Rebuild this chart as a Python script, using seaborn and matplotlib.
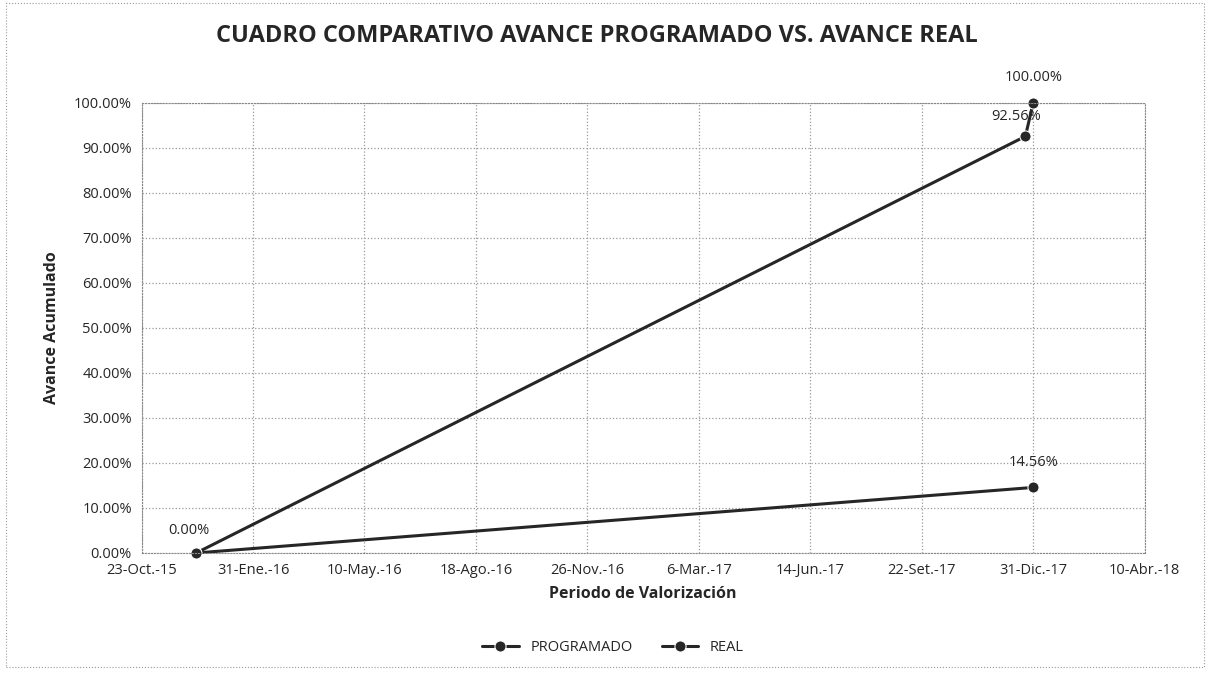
import pandas as pd
import seaborn as sns
import matplotlib.pyplot as plt
from matplotlib.ticker import PercentFormatter
from matplotlib.patches import Rectangle

# datos
fechas_prog = ['2015-12-11', '2017-12-24', '2017-12-31']
avance_prog = [0.0, 0.9256, 1.0]
fechas_real = ['2015-12-11', '2017-12-31']
avance_real = [0.0, 0.1456]

fechas_ticks = ['2015-10-23', '2016-01-31', '2016-05-10', '2016-08-18', '2016-11-26',
                '2017-03-06', '2017-06-14', '2017-09-22', '2017-12-31', '2018-04-10']
etiquetas_x = ['23-Oct.-15', '31-Ene.-16', '10-May.-16', '18-Ago.-16', '26-Nov.-16',
               '6-Mar.-17', '14-Jun.-17', '22-Set.-17', '31-Dic.-17', '10-Abr.-18']

prog = pd.DataFrame({'Fecha': pd.to_datetime(fechas_prog), 'Avance': avance_prog})
real = pd.DataFrame({'Fecha': pd.to_datetime(fechas_real), 'Avance': avance_real})

sns.set_style('white')
plt.rcParams['font.family'] = ['Open Sans', 'DejaVu Sans']

fig = plt.figure(figsize=(12.1, 6.81), dpi=100)
ax = fig.add_axes([0.117, 0.188, 0.829, 0.661])

color = '#262626'
sns.lineplot(data=prog, x='Fecha', y='Avance', ax=ax, color=color, linewidth=2.2,
             marker='o', markersize=8, label='PROGRAMADO', clip_on=False)
sns.lineplot(data=real, x='Fecha', y='Avance', ax=ax, color=color, linewidth=2.2,
             marker='o', markersize=8, label='REAL', clip_on=False)

# etiquetas de datos
def etiqueta(txt, x, y, dx, dy):
    ax.annotate(txt, (x, y), xytext=(dx, dy), textcoords='offset points',
                fontsize=10.5, ha='center', va='center')

etiqueta('0.00%', prog['Fecha'][0], avance_prog[0], -5, 16)
etiqueta('92.56%', prog['Fecha'][1], avance_prog[1], -7, 14)
etiqueta('100.00%', prog['Fecha'][2], avance_prog[2], 0, 18)
etiqueta('14.56%', real['Fecha'][1], avance_real[1], 0, 18)

ticks = pd.to_datetime(fechas_ticks)
ax.set_xlim(ticks[0], ticks[-1])
ax.set_xticks(ticks)
ax.set_xticklabels(etiquetas_x, fontsize=10.5)
ax.set_ylim(0, 1.0)
ax.set_yticks([i / 10 for i in range(11)])
ax.yaxis.set_major_formatter(PercentFormatter(1.0, decimals=2))
ax.tick_params(axis='y', labelsize=10.5)
ax.grid(True, color='#999999', linestyle=':', linewidth=0.9)
for s in ax.spines.values():
    s.set_color('#888888')
    s.set_linestyle(':')

ax.set_xlabel('Periodo de Valorización', fontsize=11.5, fontweight='bold', labelpad=6)
ax.set_ylabel('Avance Acumulado', fontsize=11.5, fontweight='bold', labelpad=10)

fig.suptitle('CUADRO COMPARATIVO AVANCE PROGRAMADO VS. AVANCE REAL',
             fontsize=17, fontweight='bold', y=0.965, x=0.493)

ax.legend(loc='center', bbox_to_anchor=(0.47, -0.21), ncol=2, frameon=False,
          fontsize=10.5, handlelength=2.5, columnspacing=2)

# marco exterior del grafico
fig.patches.append(Rectangle((0.005, 0.02), 0.99, 0.975, transform=fig.transFigure,
                             fill=False, edgecolor='#999999', linestyle=':', linewidth=0.8))

fig.savefig('out.png', dpi=100)
